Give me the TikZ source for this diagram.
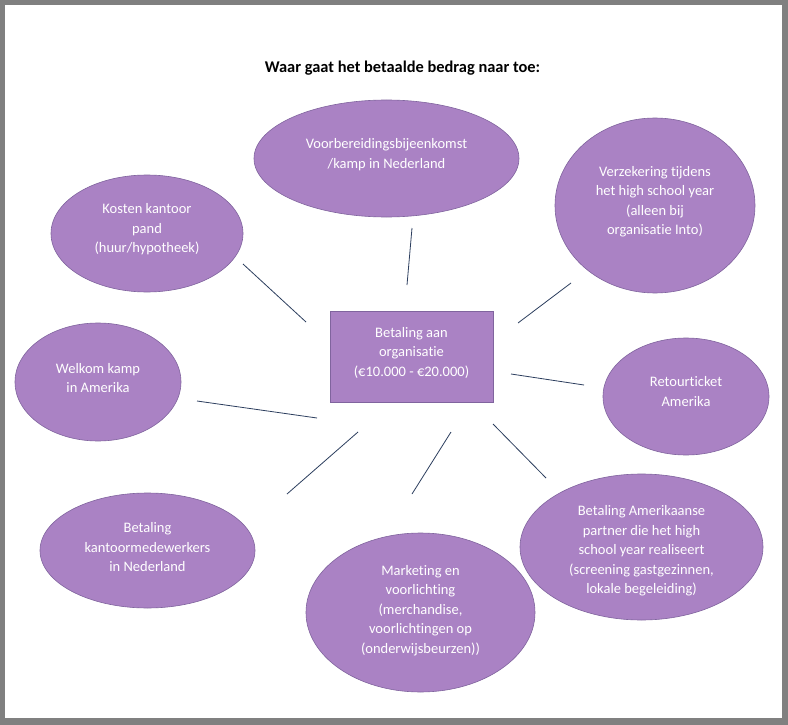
\documentclass[tikz,border=0pt]{standalone}
\usepackage{fontspec}
\setmainfont{Carlito}[Ligatures=NoCommon]
\usetikzlibrary{shapes.geometric}
\definecolor{paars}{RGB}{170,130,196}
\definecolor{paarsrand}{RGB}{128,100,158}
\definecolor{lijn}{RGB}{44,62,94}
\definecolor{kader}{RGB}{128,128,128}
\begin{document}
\begin{tikzpicture}[x=1pt,y=-1pt,
		bubble/.style={ellipse,draw=paarsrand,line width=0.6pt,fill=paars,inner sep=0pt},
		tekst/.style={text=white,align=center,inner sep=0pt,font=\fontsize{14.5}{19.5}\selectfont,yshift=4pt},
		box/.style={rectangle,draw=paarsrand,line width=0.6pt,fill=paars,inner sep=0pt,
			minimum width=163pt,minimum height=91pt},
		link/.style={draw=lijn,line width=0.8pt}]
		\useasboundingbox (0,0) rectangle (788,725);
		\fill[kader] (0,0) rectangle (788,725);
		\fill[white] (5,5) rectangle (782,718);
		\node[font=\fontsize{16.4}{19}\selectfont\bfseries] (titel) at (402.5,68) {Waar gaat het betaalde bedrag naar toe:};
		\node[box,label={[tekst]center:{Betaling aan\\organisatie\\(€10.000 - €20.000)}}] (betaling) at (411.5,356.5) {};
		\node[bubble,minimum width=265pt,minimum height=117pt,
			label={[tekst]center:{Voorbereidingsbijeenkomst\\/kamp in Nederland}}] (prep) at (386.5,158.5) {};
		\node[bubble,minimum width=192pt,minimum height=117pt,
			label={[tekst]center:{Kosten kantoor\\pand\\(huur/hypotheek)}}] (kantoor) at (147,233.5) {};
		\node[bubble,minimum width=200pt,minimum height=175pt,
			label={[tekst]center:{Verzekering tijdens\\het high school year\\(alleen bij\\organisatie Into)}}] (verzekering) at (655,205.5) {};
		\node[bubble,minimum width=166pt,minimum height=118pt,
			label={[tekst]center:{Welkom kamp\\in Amerika}}] (welkom) at (98,382) {};
		\node[bubble,minimum width=166pt,minimum height=117pt,
			label={[tekst,yshift=1pt]center:{Retourticket\\Amerika}}] (retour) at (686,396.5) {};
		\node[bubble,minimum width=215pt,minimum height=115pt,
			label={[tekst,yshift=-1pt]center:{Betaling\\kantoormedewerkers\\in Nederland}}] (medewerkers) at (147.5,550.5) {};
		\node[bubble,minimum width=229pt,minimum height=159pt,
			label={[tekst,yshift=-2pt]center:{Marketing en\\voorlichting\\(merchandise,\\voorlichtingen op\\(onderwijsbeurzen))}}] (marketing) at (420.5,612.5) {};
		\node[bubble,minimum width=243pt,minimum height=146pt,
			label={[tekst,yshift=-8pt]center:{Betaling Amerikaanse\\partner die het high\\school year realiseert\\(screening gastgezinnen,\\lokale begeleiding)}}] (partner) at (641.5,547) {};
		\coordinate (kantoor-a) at (243,264);
		\coordinate (kantoor-b) at (306,322);
		\coordinate (prep-a) at (412,228);
		\coordinate (prep-b) at (407,285);
		\coordinate (verzekering-a) at (571,283);
		\coordinate (verzekering-b) at (518,323);
		\coordinate (welkom-a) at (197,401);
		\coordinate (welkom-b) at (317,418);
		\coordinate (retour-a) at (511,374);
		\coordinate (retour-b) at (584,385);
		\coordinate (medewerkers-a) at (358,432);
		\coordinate (medewerkers-b) at (287,494);
		\coordinate (marketing-a) at (451,432);
		\coordinate (marketing-b) at (412,494);
		\coordinate (partner-a) at (493,424);
		\coordinate (partner-b) at (546,478);
		\foreach \n in {kantoor,prep,verzekering,welkom,retour,medewerkers,marketing,partner}
			\draw[link] (\n-a) -- (\n-b);
	\end{tikzpicture}
\end{document}
